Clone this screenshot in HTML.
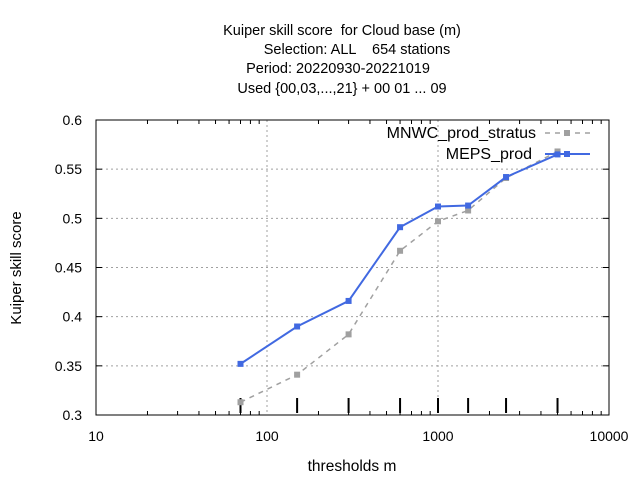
<!DOCTYPE html>
<html><head><meta charset="utf-8"><style>
body{margin:0;background:#fff}
svg{font-family:"Liberation Sans",sans-serif;}
text{white-space:pre}
</style></head><body>
<svg id="chart" width="640" height="480" xmlns="http://www.w3.org/2000/svg">
<g font-size="14.5" text-anchor="middle" fill="#000">
<text x="342" y="35">Kuiper skill score  for Cloud base (m)</text>
<text x="357" y="54">Selection: ALL    654 stations</text>
<text x="338" y="73">Period: 20220930-20221019</text>
<text x="342" y="93">Used {00,03,...,21} + 00 01 ... 09</text>
</g>
<g id="grid"></g>
<g id="axes"></g>
<g id="series"></g>
<text x="352" y="471" font-size="15.5" text-anchor="middle">thresholds m</text>
<text transform="translate(21,268) rotate(-90)" font-size="15" text-anchor="middle">Kuiper skill score</text>
<g font-size="16" text-anchor="end">
<text x="536" y="138">MNWC_prod_stratus</text>
<line x1="545" y1="133" x2="590" y2="133" stroke="#a0a0a0" stroke-width="1.5" stroke-dasharray="5,5"/>
<rect x="564" y="130" width="6" height="6" fill="#a0a0a0"/>
<text x="532" y="159">MEPS_prod</text>
<line x1="545" y1="154" x2="590" y2="154" stroke="#4169e1" stroke-width="2"/>
<rect x="564" y="151" width="6" height="6" fill="#4169e1"/>
</g>
</svg>
<script>
const thresholds=[70,150,300,600,1000,1500,2500,5000];
const mepsValues=[0.352,0.390,0.416,0.491,0.512,0.513,0.542,0.565];
const mnwcValues=[0.313,0.341,0.382,0.467,0.497,0.508,0.541,0.568];
const yTicks=[0.3,0.35,0.4,0.45,0.5,0.55,0.6];
const xTicks=[10,100,1000,10000];
const L=96,R=609,T=120,B=415;
const NS="http://www.w3.org/2000/svg";
const xs=v=>L+(Math.log10(v)-1)/3*(R-L);
const ys=v=>B-(v-0.3)/0.3*(B-T);
function mk(p,tag,at){const e=document.createElementNS(NS,tag);for(const k in at)e.setAttribute(k,at[k]);p.appendChild(e);return e;}
const grid=document.getElementById('grid'),axes=document.getElementById('axes'),ser=document.getElementById('series');
yTicks.forEach(v=>{
 if(v>0.3&&v<0.6){const g=mk(grid,'line',{x1:L,x2:R,y1:ys(v),y2:ys(v),stroke:'#a0a0a0','stroke-dasharray':'2,3'});
 
 }
 mk(axes,'line',{x1:L,x2:L+6,y1:ys(v),y2:ys(v),stroke:'#000'});
 mk(axes,'line',{x1:R,x2:R-6,y1:ys(v),y2:ys(v),stroke:'#000'});
 const t=mk(axes,'text',{x:L-14,y:ys(v)+5,'font-size':14,'text-anchor':'end'});t.textContent=String(v);
 
 
});
xTicks.forEach(v=>{
 if(v>10&&v<10000){const g=mk(grid,'line',{x1:xs(v),x2:xs(v),y1:T,y2:B,stroke:'#a0a0a0','stroke-dasharray':'2,3'});
 
 }
 const t=mk(axes,'text',{x:xs(v),y:441,'font-size':14,'text-anchor':'middle'});t.textContent=String(v);
 
 
});
for(let d=10;d<10000;d*=10)for(let m=2;m<=9;m++){const x=xs(d*m);
 mk(axes,'line',{x1:x,x2:x,y1:B,y2:B-4,stroke:'#000'});mk(axes,'line',{x1:x,x2:x,y1:T,y2:T+4,stroke:'#000'});}
thresholds.forEach(v=>{const l=mk(axes,'line',{x1:xs(v),x2:xs(v),y1:B-2,y2:B-17,stroke:'#000','stroke-width':2});
 
 });
const fr=mk(axes,'rect',{x:L,y:T,width:R-L,height:B-T,fill:'none',stroke:'#000'});


function draw(vals,color,dash,w,name){
 const pts=thresholds.map((t,i)=>xs(t)+','+ys(vals[i])).join(' ');
 const pl=mk(ser,'polyline',{points:pts,fill:'none',stroke:color,'stroke-width':w});
 if(dash)pl.setAttribute('stroke-dasharray',dash);
 
 
 thresholds.forEach((t,i)=>{const r=mk(ser,'rect',{x:xs(t)-3,y:ys(vals[i])-3,width:6,height:6,fill:color});
 
 });
}
draw(mnwcValues,'#a0a0a0','5,5',1.5,'mnwc');
draw(mepsValues,'#4169e1',null,2,'meps');
</script>
</body></html>
